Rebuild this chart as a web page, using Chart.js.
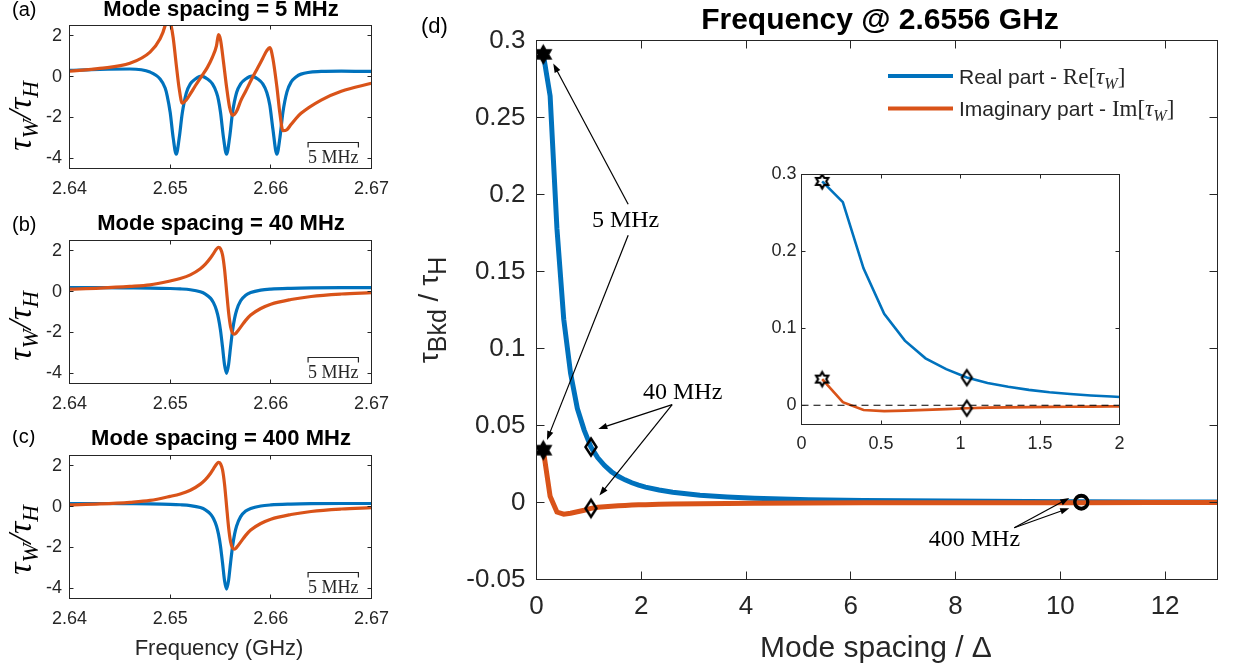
<!DOCTYPE html>
<html>
<head>
<meta charset="utf-8">
<script src="https://cdn.jsdelivr.net/npm/chart.js"></script>
<style>
  body { margin: 0; background: #fff; }
  #fig { position: relative; width: 1236px; height: 667px; overflow: hidden; background: #fff; }
  #fig canvas { position: absolute; }
</style>
</head>
<body>
<div id="fig">
  <canvas id="panelA" width="400" height="200" style="left:0;top:0"></canvas>
  <canvas id="panelB" width="400" height="200" style="left:0;top:215px"></canvas>
  <canvas id="panelC" width="400" height="237" style="left:0;top:430px"></canvas>
  <canvas id="panelD" width="836" height="667" style="left:400px;top:0"></canvas>
  <canvas id="inset" width="400" height="320" style="left:740px;top:150px"></canvas>
</div>
<script>
const BLUE = '#0072BD', ORANGE = '#D95319', INK = '#262626';
const SANS = 'Arial, "Liberation Sans", Helvetica, sans-serif';
const SERIF = '"Liberation Serif", "Times New Roman", serif';

// (a) mode spacing 5 MHz: three modes in the window
const freqA = [2.640, 2.643, 2.646, 2.648, 2.649, 2.6495, 2.6497, 2.650, 2.6503, 2.6506, 2.6509, 2.6512,
  2.6516, 2.652, 2.6525, 2.6531, 2.6537, 2.6542, 2.6546, 2.6548, 2.655, 2.6553, 2.6556, 2.6559, 2.6562,
  2.6566, 2.657, 2.6575, 2.6581, 2.6587, 2.6592, 2.6596, 2.6599, 2.6602, 2.6606, 2.6609, 2.6612, 2.6616,
  2.662, 2.6625, 2.663, 2.665, 2.667, 2.670];
const reA = [0.30, 0.35, 0.37, 0.22, -0.12, -0.56, -0.93, -1.75, -3.0, -3.8, -3.0, -1.8,
  -0.81, -0.36, -0.12, 0.02, -0.12, -0.36, -0.78, -1.15, -1.75, -3.0, -3.8, -3.0, -1.75,
  -0.78, -0.36, -0.12, 0.02, -0.12, -0.36, -0.78, -1.4, -2.55, -3.8, -3.0, -1.75, -0.75,
  -0.28, -0.02, 0.12, 0.25, 0.27, 0.25];
const imA = [0.26, 0.40, 0.65, 1.2, 1.85, 2.5, 3.0, 2.7, 1.9, 0.6, -0.6, -1.3,
  -1.15, -0.85, -0.45, 0.0, 0.45, 0.95, 1.5, 2.05, 1.8, 0.7, -0.5, -1.5, -1.9,
  -1.7, -1.2, -0.72, -0.12, 0.43, 0.9, 1.27, 1.42, 0.9, -0.5, -1.8, -2.65, -2.6,
  -2.35, -2.05, -1.8, -1.15, -0.72, -0.33];

// (b) 40 MHz and (c) 400 MHz: a single mode in the window
const freqBC = [2.640, 2.643, 2.646, 2.648, 2.650, 2.651, 2.652, 2.653, 2.6535, 2.654, 2.6543, 2.6546,
  2.6548, 2.655, 2.6552, 2.6554, 2.6556, 2.6558, 2.656, 2.6562, 2.6564, 2.6566, 2.657, 2.6575,
  2.658, 2.659, 2.660, 2.662, 2.664, 2.667, 2.670];
const reB = [0.19, 0.19, 0.18, 0.17, 0.15, 0.13, 0.09, -0.01, -0.12, -0.32, -0.54, -0.91,
  -1.31, -1.9, -2.71, -3.58, -4.0, -3.58, -2.71, -1.9, -1.31, -0.91, -0.45, -0.18,
  -0.05, 0.07, 0.12, 0.16, 0.18, 0.19, 0.19];
const imB = [0.12, 0.17, 0.25, 0.33, 0.52, 0.64, 0.82, 1.12, 1.34, 1.64, 1.86, 2.08,
  2.17, 2.10, 1.80, 1.10, 0.05, -1.0, -1.72, -2.03, -2.08, -2.0, -1.74, -1.41,
  -1.15, -0.83, -0.62, -0.39, -0.24, -0.12, -0.05];
const reC = [0.15, 0.15, 0.14, 0.13, 0.11, 0.09, 0.05, -0.05, -0.16, -0.36, -0.58, -0.95,
  -1.35, -1.94, -2.75, -3.62, -4.04, -3.62, -2.75, -1.94, -1.35, -0.95, -0.49, -0.22,
  -0.09, 0.03, 0.08, 0.12, 0.14, 0.15, 0.15];
const imC = [0.08, 0.13, 0.21, 0.30, 0.50, 0.62, 0.80, 1.10, 1.32, 1.62, 1.85, 2.07,
  2.17, 2.10, 1.80, 1.10, 0.05, -1.0, -1.72, -2.03, -2.08, -2.0, -1.74, -1.41,
  -1.15, -0.83, -0.62, -0.39, -0.24, -0.12, -0.05];

const freqTicks = [2.64, 2.65, 2.66, 2.67];
const ratioTicks = [-4, -2, 0, 2];

// (d) background term at 2.6556 GHz vs mode spacing / linewidth
const spacing = [0.13, 0.26, 0.39, 0.52, 0.65, 0.78, 0.91, 1.04, 1.17, 1.30, 1.43, 1.56, 1.69, 1.82,
  1.95, 2.08, 2.34, 2.60, 3.12, 3.64, 4.16, 5.20, 6.24, 7.80, 9.36, 10.40, 11.70, 13.00];
const realPart = [0.291, 0.264, 0.178, 0.119, 0.084, 0.061, 0.047, 0.036, 0.029, 0.024, 0.020, 0.017,
  0.0147, 0.0128, 0.0113, 0.0100, 0.0081, 0.0066, 0.0047, 0.0036, 0.0028, 0.0018, 0.0013,
  0.0009, 0.0006, 0.0005, 0.0004, 0.0003];
const imagPart = [0.034, 0.004, -0.0062, -0.0076, -0.007, -0.006, -0.005, -0.0038, -0.0031, -0.0027,
  -0.0024, -0.0021, -0.0019, -0.0017, -0.0015, -0.0014, -0.0012, -0.0010, -0.0008, -0.0006,
  -0.0005, -0.0003, -0.0002, -0.0001, -0.0001, -0.0001, 0, 0];
const markedSpacing = [0.13, 1.04, 10.40];   // 5, 40 and 400 MHz
const spacingTicks = [0, 2, 4, 6, 8, 10, 12];
const bkdTicks = [-0.05, 0, 0.05, 0.1, 0.15, 0.2, 0.25, 0.3];
const insetXTicks = [0, 0.5, 1, 1.5, 2];
const insetYTicks = [0, 0.1, 0.2, 0.3];

// callouts on (d), in data units: label centre and arrows [x0, y0, x1, y1]
const callouts = [
  { text: '5 MHz', x: 1.7, y: 0.183, arrows: [[1.75, 0.1937, 0.32, 0.285], [1.75, 0.1736, 0.2, 0.0406]] },
  { text: '40 MHz', x: 2.79, y: 0.0713, arrows: [[2.59, 0.0636, 1.18, 0.0478], [2.59, 0.0636, 1.2, 0.0045]] },
  { text: '400 MHz', x: 8.36, y: -0.0242, arrows: [[9.12, -0.0164, 10.17, 0.0029], [9.12, -0.0164, 10.17, -0.0037]] }
];

Chart.defaults.font.family = SANS;
Chart.defaults.color = INK;

const fmt = v => String(Math.round(v * 1000) / 1000);
const pts = (xs, ys) => xs.map((x, i) => ({ x, y: ys[i] }));

function axis(min, max, ticks, size, horizontal, fontSize, pad, cb) {
  return {
    type: 'linear', min, max,
    afterBuildTicks: s => { s.ticks = ticks.map(v => ({ value: v })); },
    afterFit: horizontal ? s => { s.height = size; } : s => { s.width = size; },
    ticks: { font: { size: fontSize }, color: INK, padding: pad, maxRotation: 0, autoSkip: false, callback: cb || fmt },
    grid: { display: false, drawTicks: false },
    border: { display: false }
  };
}

// MATLAB-style box with inward ticks on all four sides
function framePlugin(len) {
  return {
    id: 'frame',
    afterDatasetsDraw(chart) {
      const { ctx, chartArea: a, scales: { x, y } } = chart;
      ctx.save();
      ctx.strokeStyle = INK;
      ctx.lineWidth = 1;
      ctx.strokeRect(a.left, a.top, a.right - a.left, a.bottom - a.top);
      ctx.beginPath();
      x.ticks.forEach(t => {
        const p = Math.floor(x.getPixelForValue(t.value)) + 0.5;
        ctx.moveTo(p, a.bottom); ctx.lineTo(p, a.bottom - len);
        ctx.moveTo(p, a.top); ctx.lineTo(p, a.top + len);
      });
      y.ticks.forEach(t => {
        const p = Math.floor(y.getPixelForValue(t.value)) + 0.5;
        ctx.moveTo(a.left, p); ctx.lineTo(a.left + len, p);
        ctx.moveTo(a.right, p); ctx.lineTo(a.right - len, p);
      });
      ctx.stroke();
      ctx.restore();
    }
  };
}

// text made of runs [text, font, dy]; optional rotation about (x, y)
function drawRuns(ctx, parts, x, y, align, angle) {
  ctx.save();
  ctx.translate(x, y);
  if (angle) ctx.rotate(angle);
  ctx.textBaseline = 'alphabetic';
  ctx.textAlign = 'left';
  let w = 0;
  parts.forEach(([t, f]) => { ctx.font = f; w += ctx.measureText(t).width; });
  let cx = align === 'center' ? -w / 2 : 0;
  parts.forEach(([t, f, dy]) => {
    ctx.font = f;
    ctx.fillText(t, cx, dy || 0);
    cx += ctx.measureText(t).width;
  });
  ctx.restore();
}

function arrow(ctx, x0, y0, x1, y1) {
  const a = Math.atan2(y1 - y0, x1 - x0), L = 9, W = 3.2;
  const c = Math.cos(a), s = Math.sin(a);
  ctx.beginPath();
  ctx.moveTo(x0, y0);
  ctx.lineTo(x1 - L * 0.7 * c, y1 - L * 0.7 * s);
  ctx.stroke();
  ctx.beginPath();
  ctx.moveTo(x1, y1);
  ctx.lineTo(x1 - L * c + W * s, y1 - L * s - W * c);
  ctx.lineTo(x1 - L * c - W * s, y1 - L * s + W * c);
  ctx.closePath();
  ctx.fill();
}

function hexagram(R, filled, lw) {
  const n = Math.ceil(2 * R + 2 * lw + 4);
  const c = document.createElement('canvas');
  c.width = c.height = n;
  const g = c.getContext('2d');
  g.beginPath();
  for (let k = 0; k < 12; k++) {
    const r = k % 2 ? R / Math.sqrt(3) : R;
    const a = -Math.PI / 2 + k * Math.PI / 6;
    g.lineTo(n / 2 + r * Math.cos(a), n / 2 + r * Math.sin(a));
  }
  g.closePath();
  if (filled) { g.fillStyle = '#000'; g.fill(); }
  g.lineWidth = lw;
  g.strokeStyle = '#000';
  g.stroke();
  return c;
}

function diamond(hw, hh, lw) {
  const w = Math.ceil(2 * hw + 2 * lw + 4), h = Math.ceil(2 * hh + 2 * lw + 4);
  const c = document.createElement('canvas');
  c.width = w; c.height = h;
  const g = c.getContext('2d');
  g.beginPath();
  g.moveTo(w / 2, h / 2 - hh);
  g.lineTo(w / 2 + hw, h / 2);
  g.lineTo(w / 2, h / 2 + hh);
  g.lineTo(w / 2 - hw, h / 2);
  g.closePath();
  g.lineWidth = lw;
  g.strokeStyle = '#000';
  g.stroke();
  return c;
}

const tauLabel = [
  ['τ', 'italic 34px ' + SERIF], ['W', 'italic 23px ' + SERIF, 7],
  ['/', 'italic 34px ' + SERIF],
  ['τ', 'italic 34px ' + SERIF], ['H', 'italic 23px ' + SERIF, 7]
];

function smallPanel(id, p) {
  const line = (ys, color, order) => ({
    data: pts(p.freq, ys), borderColor: color, borderWidth: 3.2, pointRadius: 0,
    cubicInterpolationMode: 'monotone', order
  });
  return new Chart(document.getElementById(id), {
    type: 'line',
    data: { datasets: [line(p.im, ORANGE, 0), line(p.re, BLUE, 1)] },
    options: {
      responsive: false, animation: false, events: [],
      layout: { padding: { top: 25.5, right: 28.5, bottom: 0, left: 0 } },
      plugins: { legend: { display: false }, tooltip: { enabled: false } },
      scales: {
        x: axis(2.64, 2.67, freqTicks, p.axisH, true, 18, 10, v => v.toFixed(2)),
        y: axis(-4.5, 2.5, ratioTicks, 69.5, false, 18, 7.5)
      }
    },
    plugins: [framePlugin(4), {
      id: 'decor',
      afterDraw(chart) {
        const { ctx, scales: { x, y } } = chart;
        ctx.save();
        ctx.fillStyle = '#000';
        ctx.textBaseline = 'alphabetic';
        ctx.font = '20px ' + SANS;
        ctx.fillText(p.tag, 12, p.tagY);
        ctx.textAlign = 'center';
        ctx.font = 'bold 22px ' + SANS;
        ctx.fillText(p.title, 221, p.titleY);
        drawRuns(ctx, tauLabel, 31, p.labelY, 'center', -Math.PI / 2);
        // 5 MHz scale bar
        const x0 = x.getPixelForValue(2.6637), x1 = x.getPixelForValue(2.6687);
        const yb = Math.round(y.getPixelForValue(-3.2)) + 0.5;
        ctx.strokeStyle = INK;
        ctx.lineWidth = 1.2;
        ctx.beginPath();
        ctx.moveTo(x0, yb + 5); ctx.lineTo(x0, yb); ctx.lineTo(x1, yb); ctx.lineTo(x1, yb + 5);
        ctx.stroke();
        ctx.fillStyle = INK;
        ctx.font = '18px ' + SERIF;
        ctx.fillText('5 MHz', (x0 + x1) / 2, y.getPixelForValue(-4.25));
        if (p.xTitle) {
          ctx.font = '22px ' + SANS;
          ctx.fillText(p.xTitle, 219, 225);
        }
        ctx.restore();
      }
    }]
  });
}

smallPanel('panelA', { freq: freqA, re: reA, im: imA, axisH: 31.5, tag: '(a)', tagY: 16,
  title: 'Mode spacing = 5 MHz', titleY: 16, labelY: 116 });
smallPanel('panelB', { freq: freqBC, re: reB, im: imB, axisH: 31.5, tag: '(b)', tagY: 16,
  title: 'Mode spacing = 40 MHz', titleY: 15, labelY: 111 });
smallPanel('panelC', { freq: freqBC, re: reC, im: imC, axisH: 68.5, tag: '(c)', tagY: 13,
  title: 'Mode spacing = 400 MHz', titleY: 15, labelY: 110, xTitle: 'Frequency (GHz)' });

// marker positions on (d) and the inset
const idx = markedSpacing.map(s => spacing.indexOf(s));
const at = i => [{ x: spacing[i], y: realPart[i] }, { x: spacing[i], y: imagPart[i] }];

const bigStar = hexagram(9, true, 1.5);
const bigDiamond = diamond(5.5, 8.5, 2.5);
const smallStar = hexagram(7, false, 2.2);
const smallDiamond = diamond(5, 7.5, 2.2);

new Chart(document.getElementById('panelD'), {
  type: 'line',
  data: {
    datasets: [
      { data: at(idx[0]), showLine: false, pointStyle: bigStar, pointRadius: 9, order: 0 },
      { data: at(idx[1]), showLine: false, pointStyle: bigDiamond, pointRadius: 8, order: 0 },
      { data: at(idx[2]), showLine: false, pointStyle: 'circle', pointRadius: 6.5, borderWidth: 3,
        borderColor: '#000', backgroundColor: 'rgba(0,0,0,0)', order: 0 },
      { data: pts(spacing, imagPart), borderColor: ORANGE, borderWidth: 5, pointRadius: 0, order: 1 },
      { data: pts(spacing, realPart), borderColor: BLUE, borderWidth: 5, pointRadius: 0, order: 2 }
    ]
  },
  options: {
    responsive: false, animation: false, events: [],
    layout: { padding: { top: 40.5, right: 18.5, bottom: 0, left: 0 } },
    plugins: { legend: { display: false }, tooltip: { enabled: false } },
    scales: {
      x: axis(0, 13, spacingTicks, 87.5, true, 26, 12),
      y: axis(-0.05, 0.3, bkdTicks, 136.5, false, 26, 11)
    }
  },
  plugins: [framePlugin(8), {
    id: 'decor',
    afterDraw(chart) {
      const { ctx, scales: { x, y } } = chart;
      ctx.save();
      ctx.fillStyle = '#000';
      ctx.textBaseline = 'alphabetic';
      ctx.font = '22px ' + SANS;
      ctx.fillText('(d)', 21, 33);
      ctx.textAlign = 'center';
      ctx.font = 'bold 30px ' + SANS;
      ctx.fillText('Frequency @ 2.6556 GHz', 480, 29);
      ctx.fillStyle = INK;
      ctx.font = '30px ' + SANS;
      ctx.fillText('Mode spacing / Δ', 476, 657);
      drawRuns(ctx, [
        ['τ', '28px ' + SANS], ['Bkd', '25px ' + SANS, 8],
        [' / ', '28px ' + SANS],
        ['τ', '28px ' + SANS], ['H', '25px ' + SANS, 8]
      ], 38, 310, 'center', -Math.PI / 2);

      // legend
      ctx.lineWidth = 4;
      [[BLUE, 76, 'Real part - ', 'Re'], [ORANGE, 108.5, 'Imaginary part - ', 'Im']].forEach(([c, ly, lab, op]) => {
        ctx.strokeStyle = c;
        ctx.beginPath(); ctx.moveTo(488, ly); ctx.lineTo(553, ly); ctx.stroke();
        ctx.fillStyle = INK;
        drawRuns(ctx, [
          [lab, '21px ' + SANS], [op + '[', '23px ' + SERIF], ['τ', 'italic 23px ' + SERIF],
          ['W', 'italic 16px ' + SERIF, 5], [']', '23px ' + SERIF]
        ], 559, ly + 7.5, 'left');
      });

      // callouts
      ctx.fillStyle = '#000';
      ctx.strokeStyle = '#000';
      ctx.lineWidth = 1.2;
      ctx.textAlign = 'center';
      ctx.textBaseline = 'middle';
      ctx.font = '24px ' + SERIF;
      callouts.forEach(c => {
        ctx.fillText(c.text, x.getPixelForValue(c.x), y.getPixelForValue(c.y));
        c.arrows.forEach(([ax, ay, bx, by]) => arrow(ctx,
          x.getPixelForValue(ax), y.getPixelForValue(ay), x.getPixelForValue(bx), y.getPixelForValue(by)));
      });
      ctx.restore();
    }
  }]
});

new Chart(document.getElementById('inset'), {
  type: 'line',
  data: {
    datasets: [
      { data: [{ x: 0, y: 0 }, { x: 2, y: 0 }], borderColor: '#000', borderWidth: 1.2, borderDash: [7, 5],
        pointRadius: 0, order: 0 },
      { data: at(idx[0]), showLine: false, pointStyle: smallStar, pointRadius: 7, order: 0 },
      { data: at(idx[1]), showLine: false, pointStyle: smallDiamond, pointRadius: 7, order: 0 },
      { data: pts(spacing, imagPart), borderColor: ORANGE, borderWidth: 2.6, pointRadius: 0, order: 1 },
      { data: pts(spacing, realPart), borderColor: BLUE, borderWidth: 2.6, pointRadius: 0, order: 2 }
    ]
  },
  options: {
    responsive: false, animation: false, events: [],
    layout: { padding: { top: 24.5, right: 20.5, bottom: 0, left: 0 } },
    plugins: { legend: { display: false }, tooltip: { enabled: false } },
    scales: {
      x: axis(0, 2, insetXTicks, 45.5, true, 18, 9),
      y: axis(-0.025, 0.3, insetYTicks, 61.5, false, 18, 5)
    }
  },
  plugins: [framePlugin(4)]
});
</script>
</body>
</html>
